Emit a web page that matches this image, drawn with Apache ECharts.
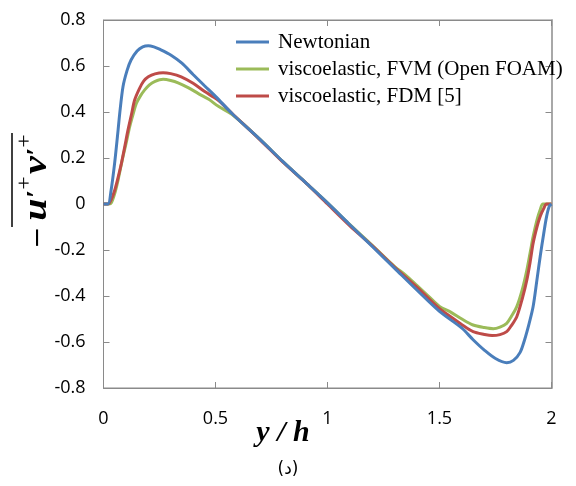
<!DOCTYPE html>
<html>
<head>
<meta charset="utf-8">
<script src="https://cdn.jsdelivr.net/npm/echarts@6/dist/echarts.min.js"></script>
<style>html,body{margin:0;padding:0;background:#fff;}#c{width:576px;height:486px;}</style>
</head>
<body>
<div id="c"></div>
<script>
const xTicks = [0, 0.5, 1, 1.5, 2];
const yTicks = [-0.8, -0.6, -0.4, -0.2, 0, 0.2, 0.4, 0.6, 0.8];
const seriesNames = ['Newtonian', 'viscoelastic, FVM (Open FOAM)', 'viscoelastic, FDM [5]'];

const newtX = [0, 0.02, 0.034, 0.05, 0.065, 0.072, 0.087, 0.105, 0.123, 0.15, 0.175, 0.2, 0.225, 0.25, 0.3, 0.35, 0.4, 0.45, 0.5, 0.58, 0.7, 0.8, 0.9, 1.0, 1.1, 1.2, 1.3, 1.4, 1.5, 1.6, 1.65, 1.7, 1.75, 1.8, 1.83, 1.86, 1.88, 1.9, 1.918, 1.935, 1.95, 1.965, 1.978, 1.99, 2.0];
const newtY = [0, 0.0, 0.06, 0.18, 0.32, 0.39, 0.51, 0.58, 0.626, 0.665, 0.683, 0.688, 0.683, 0.673, 0.648, 0.612, 0.563, 0.515, 0.468, 0.387, 0.28, 0.185, 0.095, 0.005, -0.09, -0.185, -0.28, -0.375, -0.467, -0.54, -0.59, -0.635, -0.672, -0.69, -0.68, -0.645, -0.59, -0.52, -0.446, -0.33, -0.225, -0.13, -0.055, -0.01, 0];

const fvmX = [0, 0.025, 0.035, 0.05, 0.065, 0.087, 0.1, 0.117, 0.132, 0.147, 0.165, 0.184, 0.205, 0.228, 0.266, 0.3, 0.333, 0.38, 0.422, 0.47, 0.511, 0.58, 0.7, 0.8, 0.9, 1.0, 1.1, 1.2, 1.3, 1.35, 1.4, 1.45, 1.5, 1.55, 1.6, 1.65, 1.7, 1.74, 1.77, 1.8, 1.82, 1.845, 1.87, 1.89, 1.905, 1.918, 1.935, 1.949, 1.962, 2.0];
const fvmY = [0, 0, 0.005, 0.045, 0.104, 0.206, 0.26, 0.336, 0.39, 0.438, 0.47, 0.496, 0.518, 0.532, 0.542, 0.537, 0.527, 0.505, 0.481, 0.455, 0.426, 0.385, 0.28, 0.185, 0.095, 0.005, -0.09, -0.18, -0.272, -0.31, -0.355, -0.4, -0.445, -0.47, -0.5, -0.526, -0.537, -0.542, -0.535, -0.519, -0.49, -0.446, -0.37, -0.287, -0.21, -0.142, -0.07, -0.026, 0, 0];

const fdmX = [0, 0.02, 0.035, 0.05, 0.065, 0.08, 0.095, 0.109, 0.125, 0.139, 0.161, 0.18, 0.2, 0.23, 0.266, 0.3, 0.347, 0.4, 0.45, 0.511, 0.58, 0.7, 0.8, 0.9, 1.0, 1.1, 1.2, 1.3, 1.4, 1.5, 1.55, 1.6, 1.65, 1.7, 1.735, 1.77, 1.8, 1.82, 1.845, 1.87, 1.89, 1.905, 1.918, 1.935, 1.949, 1.965, 1.978, 2.0];
const fdmY = [0, 0, 0.02, 0.06, 0.115, 0.177, 0.25, 0.32, 0.39, 0.452, 0.503, 0.535, 0.553, 0.566, 0.571, 0.567, 0.553, 0.525, 0.49, 0.452, 0.388, 0.278, 0.183, 0.095, 0.0, -0.095, -0.182, -0.275, -0.362, -0.455, -0.49, -0.525, -0.555, -0.567, -0.572, -0.568, -0.555, -0.53, -0.49, -0.41, -0.33, -0.25, -0.17, -0.1, -0.055, -0.02, 0, 0];

const colors = { newt: '#4A7EBB', fvm: '#9BBB59', fdm: '#BE4B48' };

function pairs(xs, ys) { return xs.map((x, i) => [x, ys[i]]); }

const chart = echarts.init(document.getElementById('c'), null, { renderer: 'canvas' });
const labelFont = { fontFamily: 'Open Sans', fontSize: 18, color: '#000' };
const axisLineStyle = { color: '#8a8a8a', width: 1 };

const option = {
  backgroundColor: '#fff',
  animation: false,
  title: {
    text: '(د)', left: 'center', top: 456,
    textStyle: { fontFamily: 'DejaVu Sans', fontSize: 17, fontWeight: 'normal', color: '#000' }
  },
  grid: { left: 103.5, right: 24.5, top: 20, bottom: 98, containLabel: false,
    show: true, borderColor: '#8a8a8a', borderWidth: 1, backgroundColor: 'transparent' },
  legend: {
    orient: 'vertical', left: 236, top: 31, padding: 0, itemGap: 5,
    itemWidth: 33, itemHeight: 3, icon: 'rect', itemStyle: { borderWidth: 0 },
    data: seriesNames,
    textStyle: { fontFamily: 'Liberation Serif', fontSize: 21, color: '#000', lineHeight: 22, padding: [0, 0, 0, 4] }
  },
  xAxis: [
    { type: 'value', min: 0, max: 2, interval: 0.5, position: 'bottom',
      axisLine: { show: true, onZero: false, lineStyle: axisLineStyle },
      axisTick: { show: true, inside: true, length: 6, lineStyle: axisLineStyle },
      axisLabel: Object.assign({ margin: 22, formatter: v => String(v) }, labelFont),
      splitLine: { show: false } },
    { type: 'value', min: 0, max: 2, interval: 0.5, position: 'top',
      axisLine: { show: true, onZero: false, lineStyle: axisLineStyle },
      axisTick: { show: true, inside: true, length: 6, lineStyle: axisLineStyle },
      axisLabel: { show: false }, splitLine: { show: false } }
  ],
  yAxis: [
    { type: 'value', min: -0.8, max: 0.8, interval: 0.2, position: 'left',
      axisLine: { show: true, onZero: false, lineStyle: axisLineStyle },
      axisTick: { show: true, inside: true, length: 6, lineStyle: axisLineStyle },
      axisLabel: Object.assign({ margin: 18, formatter: v => String(Math.round(v * 10) / 10) }, labelFont),
      splitLine: { show: false } },
    { type: 'value', min: -0.8, max: 0.8, interval: 0.2, position: 'right',
      axisLine: { show: true, onZero: false, lineStyle: { color: '#a8a8a8', width: 2 } },
      axisTick: { show: true, inside: true, length: 6, lineStyle: axisLineStyle },
      axisLabel: { show: false }, splitLine: { show: false } }
  ],
  series: [
    { name: seriesNames[1], type: 'line', data: pairs(fvmX, fvmY), showSymbol: false, smooth: 0.3,
      lineStyle: { color: colors.fvm, width: 3 }, itemStyle: { color: colors.fvm }, z: 2 },
    { name: seriesNames[2], type: 'line', data: pairs(fdmX, fdmY), showSymbol: false, smooth: 0.3,
      lineStyle: { color: colors.fdm, width: 3 }, itemStyle: { color: colors.fdm }, z: 3 },
    { name: seriesNames[0], type: 'line', data: pairs(newtX, newtY), showSymbol: false, smooth: 0.3,
      lineStyle: { color: colors.newt, width: 3 }, itemStyle: { color: colors.newt }, z: 4 },
    { name: 'frame', type: 'line', xAxisIndex: 1, yAxisIndex: 1, data: [], showSymbol: false, silent: true }
  ],
  graphic: [
    { type: 'text', x: 283, y: 433, style: {
        text: 'y / h', fill: '#000', align: 'center', verticalAlign: 'middle',
        font: 'italic bold 30px "Liberation Serif"' } },
    { type: 'text', x: 35, y: 190, rotation: Math.PI / 2, scaleX: 1.18, style: {
        text: '{m|−}{b|u}{s|′}{p|+}{b|v}{s|′}{p|+}',
        align: 'center', verticalAlign: 'middle',
        rich: {
          m: { fill: '#000', fontFamily: 'Liberation Serif', fontWeight: 'bold', fontSize: 30, verticalAlign: 'bottom', padding: [0, 6, 0, 0] },
          b: { fill: '#000', fontFamily: 'Liberation Serif', fontStyle: 'italic', fontWeight: 'bold', fontSize: 34, verticalAlign: 'bottom' },
          s: { fill: '#000', fontFamily: 'Liberation Serif', fontStyle: 'italic', fontWeight: 'bold', fontSize: 26, verticalAlign: 'bottom', padding: [0, 0, 4, 0] },
          p: { fill: '#000', fontFamily: 'Liberation Serif', fontWeight: 'normal', fontSize: 20, verticalAlign: 'bottom', padding: [0, 2, 18, 0] }
        } } },
    { type: 'line', shape: { x1: 12, y1: 133, x2: 12, y2: 227 }, style: { stroke: '#000', lineWidth: 1.5 } }
  ]
};
chart.setOption(option);
</script>
</body>
</html>
